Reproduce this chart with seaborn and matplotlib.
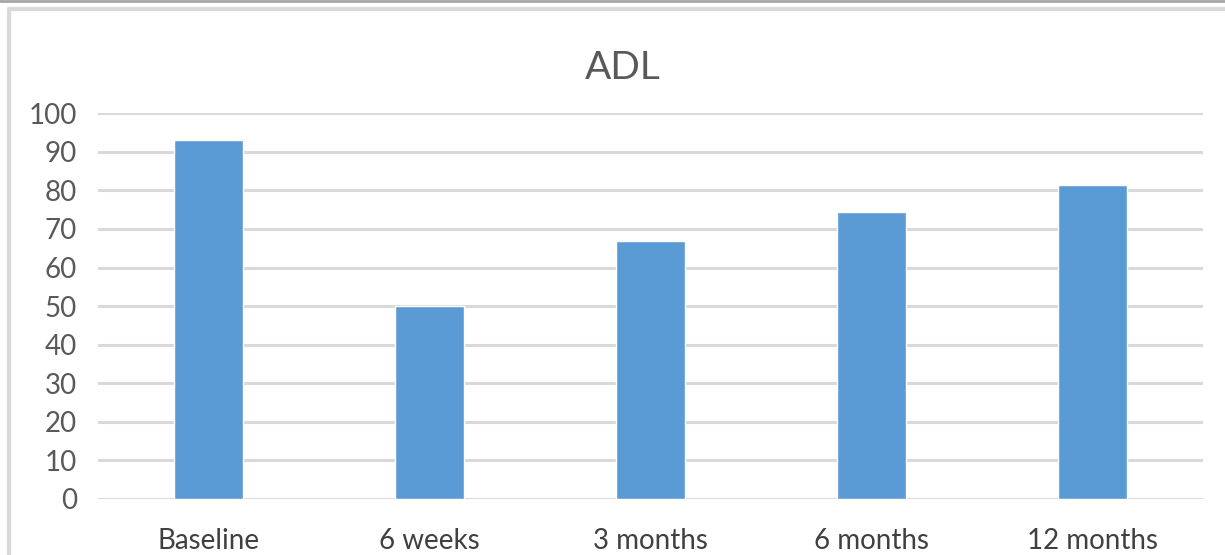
import matplotlib
matplotlib.use("Agg")
import matplotlib.pyplot as plt
import pandas as pd
import seaborn as sns

# ADL scores over follow-up
timepoints = ["Baseline", "6 weeks", "3 months", "6 months", "12 months"]
adl_scores = [93, 50, 67, 74.5, 81.5]
y_ticks = list(range(0, 101, 10))

df = pd.DataFrame({"timepoint": timepoints, "ADL": adl_scores})

sns.set_theme(style="white")
plt.rcParams["font.family"] = ["Lato", "DejaVu Sans"]

fig = plt.figure(figsize=(12.25, 5.55), dpi=100, facecolor="white")
ax = fig.add_axes([0.08, 0.101, 0.902, 0.695])

sns.barplot(data=df, x="timepoint", y="ADL", color="#5B9BD5", saturation=1,
            width=0.31, ax=ax, zorder=3)

ax.set_ylim(0, 100)
ax.set_yticks(y_ticks)
ax.grid(axis="y", color="#D9D9D9", linewidth=2.2, zorder=0)
ax.set_axisbelow(True)
for s in ax.spines.values():
    s.set_visible(False)
ax.set_xlabel("")
ax.set_ylabel("")
ax.tick_params(axis="y", length=0, pad=15, labelsize=20, labelcolor="#595959")
ax.tick_params(axis="x", length=0, pad=21, labelsize=20, labelcolor="#404040")

fig.text(0.508, 0.878, "ADL", ha="center", va="center", fontsize=28, color="#595959")

# outer chart frame
fig.add_artist(plt.Line2D([0, 1], [0.999, 0.999], color="#A6A6A6", lw=2, transform=fig.transFigure))
fig.add_artist(plt.Line2D([0.0075, 1], [0.983, 0.983], color="#D9D9D9", lw=3, transform=fig.transFigure))
fig.add_artist(plt.Line2D([0.0075, 0.0075], [0, 0.983], color="#D9D9D9", lw=3, transform=fig.transFigure))

fig.savefig("out.png", dpi=100, facecolor="white")
